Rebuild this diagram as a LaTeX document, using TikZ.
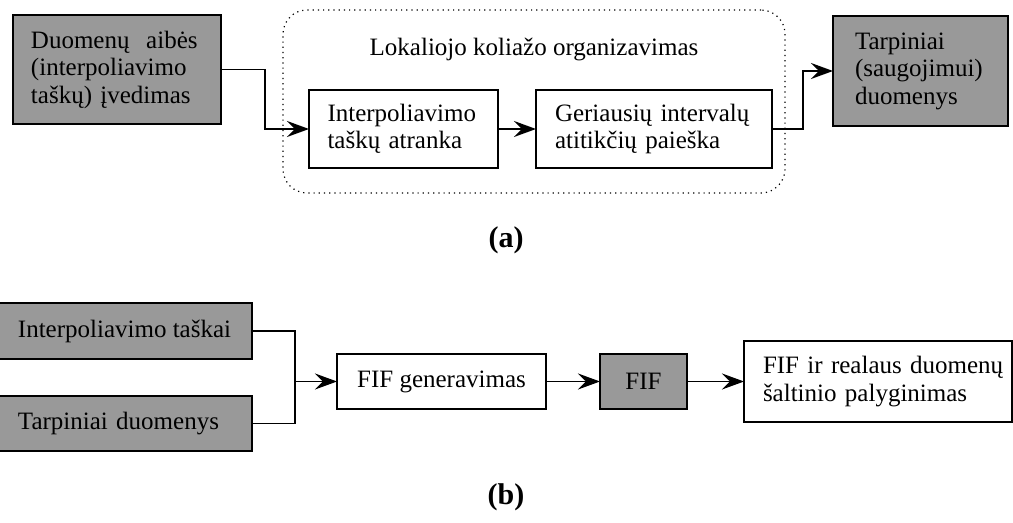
\documentclass[tikz,border=0pt]{standalone}
\usepackage{fontspec}
\setmainfont{Liberation Serif}
\usetikzlibrary{arrows.meta}
\definecolor{boxgray}{RGB}{153,153,153}
\begin{document}
\begin{tikzpicture}[x=0.5pt,y=-0.5pt,
  every node/.style={font=\fontsize{12.5}{13.75}\selectfont},
  box/.style={draw, line width=1pt, inner sep=0pt, outer sep=0pt},
  graybox/.style={box, fill=boxgray},
  lbl/.style={font=\bfseries\fontsize{15}{16}\selectfont, inner sep=0pt},
  conn/.style={line width=0.9pt},
  arr/.style={conn, -{Stealth[length=11pt,width=8pt,inset=4pt]}}
]
\useasboundingbox (0,0) rectangle (1013,523);
% (a)
\node[draw, dotted, line width=0.6pt, rounded corners=12pt, minimum width=251pt, minimum height=91.5pt, inner sep=0pt] (grp) at (534,101.5) {};
\node (title) at (534,50) {Lokaliojo koliažo organizavimas};
\node[graybox, minimum width=104pt, minimum height=54.5pt, text width=86pt, align=left] (b1) at (117,69.5)
  {Duomenų\ \ aibės\\(interpoliavimo\\taškų) įvedimas};
\node[box, minimum width=94.5pt, minimum height=39pt, text width=76pt, align=left] (b2) at (403.5,129)
  {Interpoliavimo\\taškų atranka};
\node[box, minimum width=118pt, minimum height=39pt, text width=99pt, align=left] (b3) at (654,129)
  {\mbox{Geriausių intervalų}\\\mbox{atitikčių paieška}};
\node[graybox, minimum width=87.5pt, minimum height=55pt, text width=65.5pt, align=left] (b4) at (920.5,71)
  {Tarpiniai\\(saugojimui)\\duomenys};
\draw[arr] (b1.east) -- ++(44,0) |- (b2.west);
\draw[arr] (b2) -- (b3);
\draw[arr] (b3.east) -- ++(31,0) |- (b4.west);
\node[lbl] (la) at (506,240) {(a)};
% (b)
\node[graybox, minimum width=127.5pt, minimum height=28pt] (b5) at (124.5,331) {Interpoliavimo taškai};
\node[graybox, minimum width=127.5pt, minimum height=27.5pt, text width=106.5pt, align=left] (b6) at (124.5,423.5) {Tarpiniai duomenys};
\node[box, minimum width=104.5pt, minimum height=27.5pt] (b7) at (441.5,381.5) {FIF generavimas};
\node[graybox, minimum width=43.5pt, minimum height=27.5pt] (b8) at (643.5,381.5) {FIF};
\node[box, minimum width=134pt, minimum height=40.5pt, text width=115pt, align=left] (b9) at (878,381.5)
  {\mbox{FIF ir realaus duomenų}\\\mbox{šaltinio palyginimas}};
\coordinate (j) at (295,381.5);
\draw[conn] (b5.east) -| (j);
\draw[conn] (b6.east) -| (j);
\draw[arr] (j) -- (b7.west);
\draw[arr] (b7) -- (b8);
\draw[arr] (b8) -- (b9);
\node[lbl] (lb) at (506,497) {(b)};
\end{tikzpicture}
\end{document}
